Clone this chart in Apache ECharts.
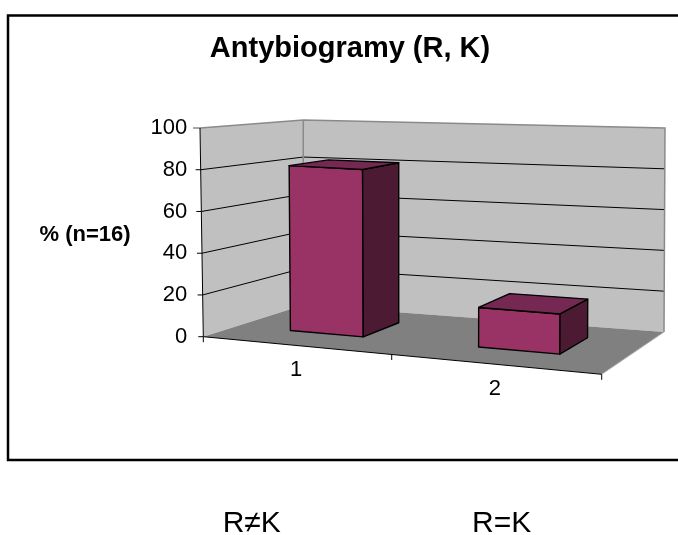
<!DOCTYPE html>
<html><head><meta charset="utf-8">
<script src="https://cdn.jsdelivr.net/npm/echarts@6/dist/echarts.min.js"></script>
<style>html,body{margin:0;padding:0;background:#fff}#c{width:678px;height:535px}</style>
</head><body><div id="c"></div>
<script>
// ---- data ----
const titleText = 'Antybiogramy (R, K)';
const yAxisTitle = '% (n=16)';
const categories = ['1', '2'];
const groupLabels = ['R≠K', 'R=K'];
const values = [81.25, 18.75];
const yTicks = [0, 20, 40, 60, 80, 100];

// ---- layout of the pseudo-3D box ----
const FONT = '"Liberation Sans", Arial, sans-serif';
const G = {left: 203.3, top: 128, width: 398.4, height: 208.7};
const corner = {FLB: [203.3, 336.7], FRB: [601.7, 374.3], BRB: [664, 332], BLB: [303, 305.3]};
const up = {FL: [-3.3, -208.7], FR: [2, -224], BR: [1, -204], BL: [0.3, -185.3]};
const PERSP = -0.1027;
const DEPTH = [0.345, 0.75];
const BAR_FRAC = 0.4;

function lerp(a, b, t) { return [a[0] + (b[0] - a[0]) * t, a[1] + (b[1] - a[1]) * t]; }
function P(u, v, h) {
  const uw = u * (1 + PERSP) / (1 + PERSP * u);
  const F = lerp(lerp(corner.FLB, corner.BLB, v), lerp(corner.FRB, corner.BRB, v), uw);
  const U = lerp(lerp(up.FL, up.BL, v), lerp(up.FR, up.BR, v), uw);
  return [F[0] + h * U[0], F[1] + h * U[1]];
}
function poly(pts, fill, stroke, lw) {
  return {type: 'polygon', shape: {points: pts},
    style: {fill: fill, stroke: stroke || null, lineWidth: lw || 0, lineJoin: 'round'}};
}
function line(pts, stroke, lw) {
  return {type: 'polyline', shape: {points: pts}, style: {fill: null, stroke: stroke, lineWidth: lw}};
}

function renderFrame(params, api) {
  const cs = params.coordSys;
  const hOf = (val) => (cs.y + cs.height - api.coord([0, val])[1]) / cs.height;
  const ch = [];
  const WALL = '#C0C0C0', FLOOR = '#808080', EDGE = '#8a8a8a';
  ch.push(poly([P(0,0,0), P(0,1,0), P(0,1,1), P(0,0,1)], WALL));
  ch.push(poly([P(0,1,0), P(1,1,0), P(1,1,1), P(0,1,1)], WALL));
  ch.push(poly([P(0,0,0), P(1,0,0), P(1,1,0), P(0,1,0)], FLOOR));
  yTicks.forEach(t => {
    const h = hOf(t);
    if (t > 0 && t < 100) ch.push(line([P(0,0,h), P(0,1,h), P(1,1,h)], '#000', 1));
    const a = P(0,0,h);
    if (t === 100) ch.push(line([[a[0] - 7, a[1]], a], EDGE, 1.5));
    else ch.push(line([[a[0] - 5, a[1]], a], '#000', 1));
  });
  // wall edges
  ch.push(line([P(0,0,1), P(0,1,1), P(1,1,1), P(1,1,0)], EDGE, 1.5));
  ch.push(line([P(0,1,0), P(0,1,1)], EDGE, 1.5));
  ch.push(line([P(1,0,0), P(1,1,0)], '#b0b0b0', 1));
  // value axis line (front-left edge)
  ch.push(line([P(0,0,0), P(0,0,1)], '#000', 1));
  // category axis line + ticks
  ch.push(line([P(0,0,0), P(1,0,0)], '#000', 1));
  for (let k = 0; k <= categories.length; k++) {
    const a = P(k / categories.length, 0, 0);
    ch.push(line([a, [a[0], a[1] + 5.5]], '#000', 1));
  }
  categories.forEach((c, i) => {
    const u = (api.coord([i, 0])[0] - cs.x) / cs.width;
    const a = P(u, 0, 0);
    ch.push({type: 'text', style: {text: c, x: a[0] + 1, y: a[1] + 24.5, align: 'center', verticalAlign: 'middle',
      fontSize: 22, fontFamily: FONT, fill: '#000'}});
  });
  return {type: 'group', children: ch};
}

function renderBar(params, api) {
  const cs = params.coordSys;
  const top = api.coord([api.value(0), api.value(1)]);
  const uc = (top[0] - cs.x) / cs.width;
  const hw = api.size([1, 0])[0] / cs.width * BAR_FRAC / 2;
  const h = (cs.y + cs.height - top[1]) / cs.height;
  const u0 = uc - hw, u1 = uc + hw, vf = DEPTH[0], vb = DEPTH[1];
  const S = '#000', LW = 1.4;
  return {type: 'group', children: [
    poly([P(u0,vf,0), P(u1,vf,0), P(u1,vf,h), P(u0,vf,h)], '#993366', S, LW),
    poly([P(u1,vf,0), P(u1,vb,0), P(u1,vb,h), P(u1,vf,h)], '#4D1A33', S, LW),
    poly([P(u0,vf,h), P(u1,vf,h), P(u1,vb,h), P(u0,vb,h)], '#742852', S, LW)
  ]};
}

const chart = echarts.init(document.getElementById('c'), null, {renderer: 'canvas'});
chart.setOption({
  animation: false,
  backgroundColor: '#fff',
  title: {text: titleText, left: 350, top: 34, textAlign: 'center', padding: 0,
    textStyle: {fontSize: 29, fontWeight: 'bold', fontFamily: FONT, color: '#000'}},
  grid: {left: G.left, top: G.top, width: G.width, height: G.height, containLabel: false},
  xAxis: {type: 'category', data: categories, show: false},
  yAxis: {type: 'value', min: 0, max: 100, interval: 20,
    axisLine: {show: false}, axisTick: {show: false}, splitLine: {show: false},
    axisLabel: {margin: 16, fontSize: 22, color: '#000', fontFamily: FONT}},
  graphic: [
    {type: 'rect', shape: {x: 8, y: 15.5, width: 700, height: 444.5}, style: {fill: null, stroke: '#000', lineWidth: 2.5}},
    {type: 'text', x: 85, y: 235, style: {text: yAxisTitle, align: 'center', verticalAlign: 'middle',
      fontSize: 22, fontWeight: 'bold', fontFamily: FONT, fill: '#000'}},
    {type: 'text', x: 251.7, y: 523.5, style: {text: groupLabels[0], align: 'center', verticalAlign: 'middle',
      fontSize: 30, fontFamily: FONT, fill: '#000'}},
    {type: 'text', x: 501.7, y: 523.5, style: {text: groupLabels[1], align: 'center', verticalAlign: 'middle',
      fontSize: 30, fontFamily: FONT, fill: '#000'}}
  ],
  series: [
    {type: 'custom', z: 1, clip: false, silent: true, data: [[0, 0]], encode: {x: 0, y: 1}, renderItem: renderFrame},
    {type: 'custom', z: 2, clip: false, data: values.map((v, i) => [i, v]), encode: {x: 0, y: 1}, renderItem: renderBar}
  ]
});
</script></body></html>
